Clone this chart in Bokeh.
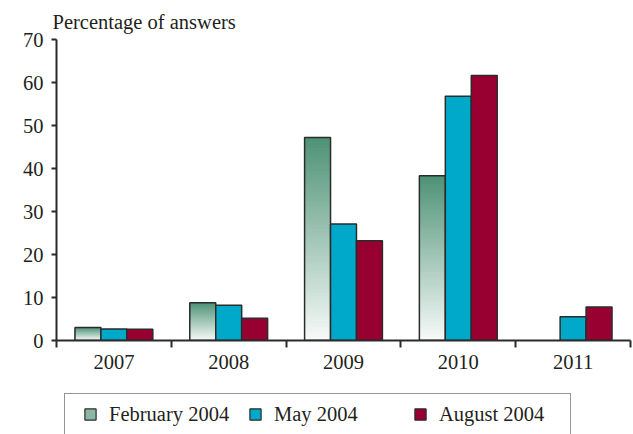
from bokeh.plotting import figure
from bokeh.layouts import column
from bokeh.models import (ColumnDataSource, FixedTicker, Legend, LegendItem,
                          Range1d)
from bokeh.embed import file_html
from bokeh.resources import INLINE

# ---- data ----
years = ["2007", "2008", "2009", "2010", "2011"]
series_names = ["February 2004", "May 2004", "August 2004"]
feb = [3.0, 8.8, 47.2, 38.3, 0.0]
may = [2.7, 8.2, 27.1, 56.8, 5.5]
aug = [2.6, 5.2, 23.2, 61.6, 7.8]
y_ticks = [0, 10, 20, 30, 40, 50, 60, 70]
y_title = "Percentage of answers"

# ---- styles ----
FONT = "Liberation Serif"
FS = "20.5px"
TXT = "#231f20"
EDGE = "#2b2b2b"
GREEN_TOP = (78, 146, 118)
GREEN_BOT = (247, 250, 249)
CYAN = "#00a8c9"
CRIMSON = "#990032"
LEG_GREEN = "#8db6a4"
BW = 0.226
N_STEPS = 60

p = figure(width=633, height=386, output_backend="svg", toolbar_location=None,
           x_range=Range1d(0, len(years)), y_range=Range1d(0, y_ticks[-1]),
           min_border_left=56, min_border_right=3, min_border_top=39,
           min_border_bottom=46)
p.outline_line_color = None
p.xgrid.visible = False
p.ygrid.visible = False
p.background_fill_color = "white"
p.border_fill_color = "white"

p.title.text = y_title
p.title.align = "left"
p.title.offset = -4
p.title.standoff = 13
p.title.text_font = FONT
p.title.text_font_size = FS
p.title.text_font_style = "normal"
p.title.text_color = TXT

centers = [i + 0.5 for i in range(len(years))]


def xs(offset, vals):
    return [c + offset for c, v in zip(centers, vals) if v > 0]


def tops(vals):
    return [v for v in vals if v > 0]


# February: gradient bars (stacked overlays from darkest/tallest to lightest/shortest)
fx = xs(-BW, feb)
ft = tops(feb)
gx, gt, gc = [], [], []
for j in range(N_STEPS - 1, -1, -1):
    t = (j + 0.5) / N_STEPS
    r = round(GREEN_BOT[0] + (GREEN_TOP[0] - GREEN_BOT[0]) * t)
    g = round(GREEN_BOT[1] + (GREEN_TOP[1] - GREEN_BOT[1]) * t)
    b = round(GREEN_BOT[2] + (GREEN_TOP[2] - GREEN_BOT[2]) * t)
    col = "#%02x%02x%02x" % (r, g, b)
    for x, v in zip(fx, ft):
        gx.append(x)
        gt.append(v * (j + 1) / N_STEPS)
        gc.append(col)
p.vbar(x="x", top="top", width=BW, bottom=0, fill_color="c", line_color=None,
       source=ColumnDataSource(dict(x=gx, top=gt, c=gc)))
p.vbar(x=fx, top=ft, width=BW, bottom=0, fill_color=None,
       line_color=EDGE, line_width=1.5)

p.vbar(x=xs(0, may), top=tops(may), width=BW, bottom=0, fill_color=CYAN,
       line_color=EDGE, line_width=1.5)
p.vbar(x=xs(BW, aug), top=tops(aug), width=BW, bottom=0, fill_color=CRIMSON,
       line_color=EDGE, line_width=1.5)

# ---- axes ----
xa = p.xaxis[0]
xa.ticker = FixedTicker(ticks=centers, minor_ticks=list(range(len(years) + 1)))
xa.major_label_overrides = {c: y for c, y in zip(centers, years)}
xa.major_tick_line_color = None
xa.major_tick_out = 7
xa.major_tick_in = 0
xa.minor_tick_out = 7
xa.minor_tick_in = 0
xa.minor_tick_line_width = 2
xa.minor_tick_line_color = EDGE
xa.axis_line_width = 2
xa.axis_line_color = EDGE
xa.major_label_standoff = 7
xa.major_label_text_font = FONT
xa.major_label_text_font_size = FS
xa.major_label_text_color = TXT

ya = p.yaxis[0]
ya.ticker = FixedTicker(ticks=y_ticks, minor_ticks=[])
ya.major_tick_out = 5
ya.major_tick_in = 0
ya.major_tick_line_width = 2
ya.major_tick_line_color = EDGE
ya.axis_line_width = 2
ya.axis_line_color = EDGE
ya.major_label_standoff = 8
ya.major_label_text_font = FONT
ya.major_label_text_font_size = FS
ya.major_label_text_color = TXT

# ---- legend strip (separate figure below the chart) ----
q = figure(width=633, height=48, output_backend="svg", toolbar_location=None,
           x_range=Range1d(0, 1), y_range=Range1d(0, 1),
           x_axis_location=None, y_axis_location=None,
           min_border_left=0, min_border_right=0, min_border_top=0,
           min_border_bottom=0)
q.grid.visible = False
q.outline_line_color = None
q.background_fill_color = "white"
q.border_fill_color = "white"

# swatch renderers: zero-size anchors, only their legend glyph is seen
leg_colors = [LEG_GREEN, CYAN, CRIMSON]
leg_rs = [q.scatter(x=[0.5], y=[0.5], size=0, marker="square", fill_color=c,
                    line_color=EDGE, line_width=1.2) for c in leg_colors]
legend = Legend(items=[LegendItem(label=n, renderers=[r]) for n, r in zip(series_names, leg_rs)],
                orientation="horizontal", location=(8, -1),
                glyph_width=38, glyph_height=28, label_standoff=0,
                label_width=125, spacing=2, padding=6, margin=0,
                border_line_color=EDGE, border_line_width=1.2,
                background_fill_alpha=0,
                label_text_font=FONT, label_text_font_size=FS,
                label_text_color=TXT)
q.add_layout(legend, "center")

layout = column(p, q, spacing=0)
open("out.html", "w").write(file_html(layout, INLINE))
